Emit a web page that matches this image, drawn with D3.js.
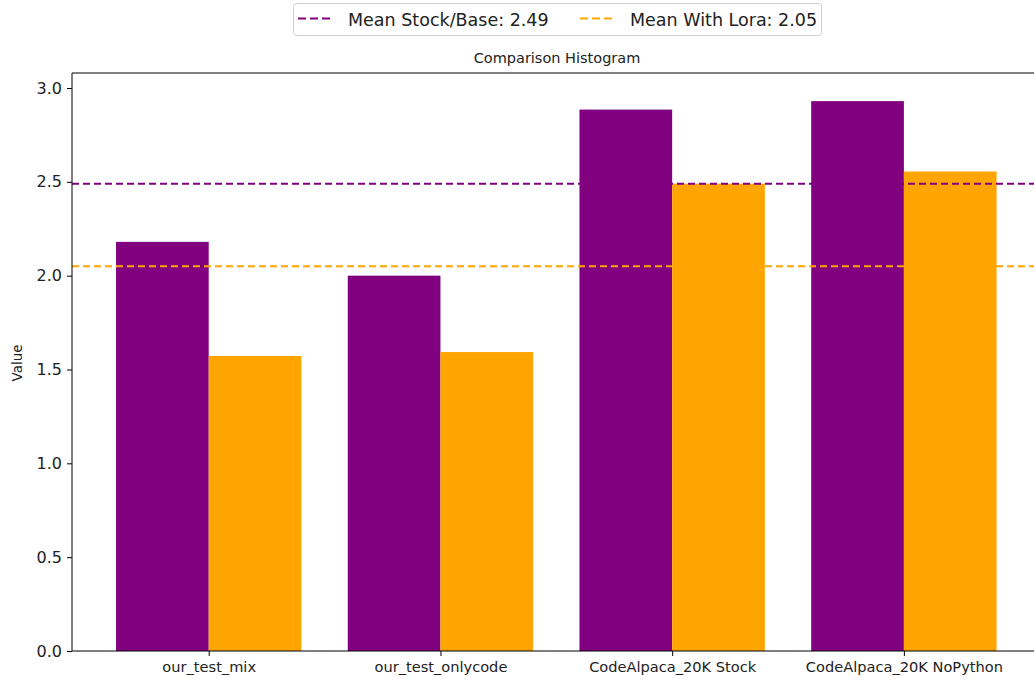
<!DOCTYPE html>
<html>
<head>
<meta charset="utf-8">
<title>Comparison Histogram</title>
<script src="https://d3js.org/d3.v7.min.js"></script>
<style>
  body { margin: 0; background: #fff; }
  text { font-family: "DejaVu Sans", sans-serif; fill: #222; }
</style>
</head>
<body>
<div id="chart"></div>
<script>
"use strict"

// dados
const categorias = ["our_test_mix", "our_test_onlycode", "CodeAlpaca_20K Stock", "CodeAlpaca_20K NoPython"];
const valoresBase = [2.18, 2.00, 2.885, 2.93];
const valoresLora = [1.572, 1.593, 2.49, 2.555];
const mediaBase = 2.49, mediaLora = 2.05;
const yTicks = [0.0, 0.5, 1.0, 1.5, 2.0, 2.5, 3.0];

const largura = 1034, altura = 682;
const margem = {top: 73, left: 72, bottom: 651};

const svg = d3.select("#chart").append("svg")
  .attr("width", largura).attr("height", altura);

// escala x continua como no matplotlib (posicoes 0..3, barras de 0.4)
const x = d3.scaleLinear().domain([-0.59, 3.59]).range([margem.left, 1040.6]);
const y = d3.scaleLinear().domain([0, 3.0]).range([margem.bottom, 88]);

const bw = 0.4;

const g = svg.append("g");

g.selectAll("rect.base").data(valoresBase).enter().append("rect")
  .attr("class", "base")
  .attr("x", (d, i) => x(i - bw))
  .attr("width", x(bw) - x(0))
  .attr("y", d => y(d))
  .attr("height", d => y(0) - y(d))
  .attr("fill", "#800080");

g.selectAll("rect.lora").data(valoresLora).enter().append("rect")
  .attr("class", "lora")
  .attr("x", (d, i) => x(i))
  .attr("width", x(bw) - x(0))
  .attr("y", d => y(d))
  .attr("height", d => y(0) - y(d))
  .attr("fill", "#FFA500");

// linhas das medias
[[mediaBase, "#800080"], [mediaLora, "#FFA500"]].forEach(([m, cor]) => {
  g.append("line")
    .attr("x1", margem.left).attr("x2", largura)
    .attr("y1", y(m)).attr("y2", y(m))
    .attr("stroke", cor).attr("stroke-width", 2)
    .attr("stroke-dasharray", "7,4");
});

// eixos
const eixoY = d3.axisLeft(y).tickValues(yTicks).tickFormat(d3.format(".1f")).tickSize(5).tickPadding(5);
const gy = svg.append("g").attr("transform", `translate(${margem.left},0)`).call(eixoY);
gy.select(".domain").remove();
gy.selectAll("text").style("font-size", "16px");

const eixoX = d3.axisBottom(x).tickValues(d3.range(categorias.length))
  .tickFormat(i => categorias[i]).tickSize(5).tickPadding(6);
const gx = svg.append("g").attr("transform", `translate(0,${margem.bottom})`).call(eixoX);
gx.select(".domain").remove();
gx.selectAll("text").style("font-size", "14.6px");

// moldura (spines)
svg.append("path")
  .attr("d", `M${largura},${margem.top}H${margem.left}V${margem.bottom}H${largura}`)
  .attr("fill", "none").attr("stroke", "#000").attr("stroke-width", 1);

// titulo e rotulo
svg.append("text").attr("x", 557).attr("y", 63).attr("text-anchor", "middle")
  .style("font-size", "14.5px").text("Comparison Histogram");

svg.append("text").attr("transform", "translate(22,363) rotate(-90)")
  .attr("text-anchor", "middle").style("font-size", "13.5px").text("Value");

// legenda
const leg = svg.append("g");
leg.append("rect").attr("x", 293.5).attr("y", 3.5).attr("width", 528).attr("height", 32)
  .attr("rx", 3).attr("fill", "#fff").attr("stroke", "#d0d0d0");
const itensLegenda = [
  {cor: "#800080", texto: "Mean Stock/Base: " + mediaBase.toFixed(2), x: 298},
  {cor: "#FFA500", texto: "Mean With Lora: " + mediaLora.toFixed(2), x: 580}
];
itensLegenda.forEach(it => {
  leg.append("line").attr("x1", it.x).attr("x2", it.x + 34).attr("y1", 18.5).attr("y2", 18.5)
    .attr("stroke", it.cor).attr("stroke-width", 2).attr("stroke-dasharray", "8,4");
  leg.append("text").attr("x", it.x + 50).attr("y", 25.5)
    .style("font-size", "17.5px").text(it.texto);
});
</script>
</body>
</html>
